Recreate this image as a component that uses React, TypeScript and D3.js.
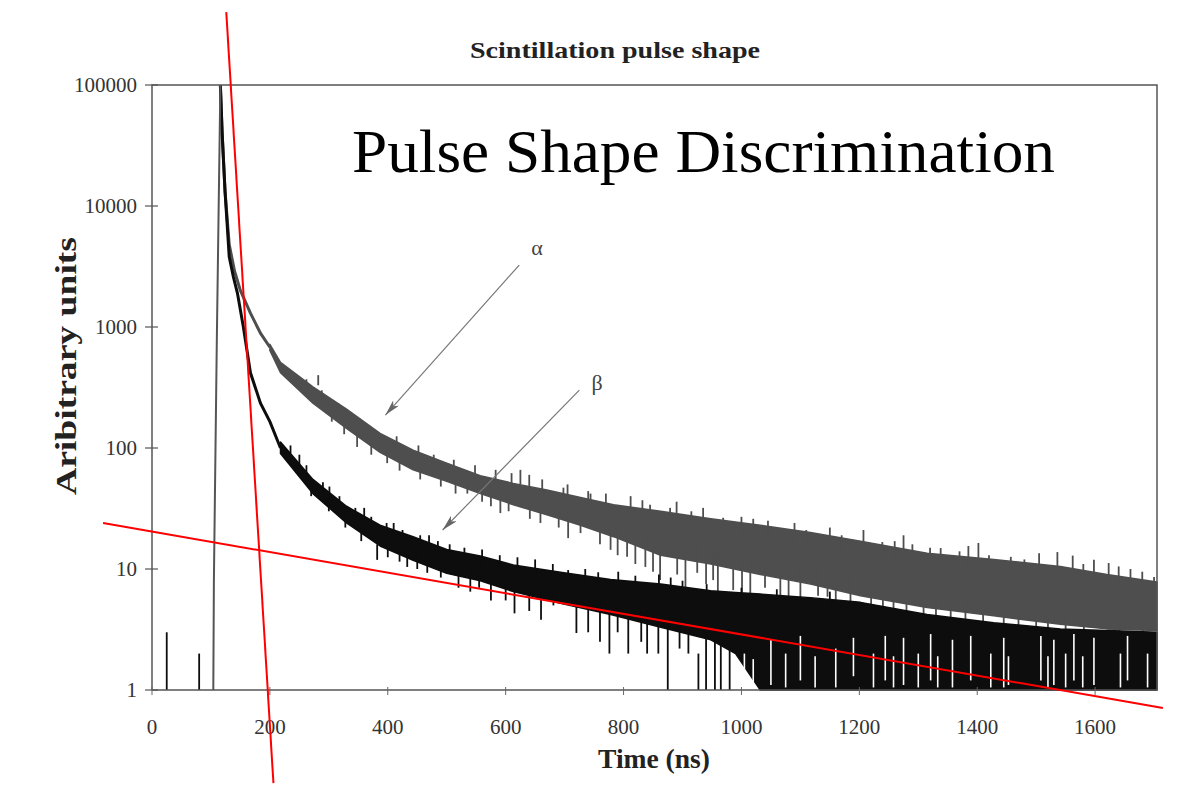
import React, { useEffect, useRef } from 'react';
import * as d3 from 'd3';

// axis ticks
const xTicks = [0, 200, 400, 600, 800, 1000, 1200, 1400, 1600];
const yTicks = [1, 10, 100, 1000, 10000, 100000];
const yTickLabels = ['1', '10', '100', '1000', '10000', '100000'];

// leading edge (shared by both pulses)
const riseT = [104, 105, 110, 116];
const riseV = [1, 8, 800, 100000];

// thin part of the decays right after the peak
const alphaHeadT = [116, 119, 124, 131, 140, 150, 167, 184, 200];
const alphaHeadV = [100000, 40000, 13000, 4800, 2900, 2000, 1300, 890, 680];
const betaHeadT = [116, 119, 124, 131, 138, 145, 155, 167, 184, 200, 218];
const betaHeadV = [100000, 40000, 13000, 3800, 2600, 1900, 1000, 418, 235, 165, 100];

// noisy tails: lower / upper edge of the trace
const alphaT = [200, 218, 273, 330, 387, 443, 500, 557, 613, 670, 727, 783, 863, 948, 1032, 1117, 1202, 1315, 1428, 1541, 1620, 1705];
const alphaLo = [640, 420, 235, 145, 92, 66, 53, 42, 34, 28, 23, 18.5, 13, 11, 9, 7.5, 6, 4.8, 4.1, 3.5, 3.2, 3.1];
const alphaHi = [720, 510, 320, 210, 132, 96, 75, 59, 51, 45, 39, 34, 30, 26, 23, 20, 17, 13.5, 12, 10.5, 9, 7.8];

const betaT = [218, 273, 330, 387, 443, 500, 557, 613, 693, 778, 863, 948, 990, 1032, 1117, 1202, 1315, 1428, 1541, 1620, 1705];
const betaLo = [90, 42, 24, 15.5, 11.8, 9.2, 8, 6.5, 5.2, 4.2, 3.3, 2.6, 2, 1, 1, 1, 1, 1, 1, 1, 1];
const betaHi = [112, 55, 33, 23, 18.5, 14.5, 12.8, 10.8, 9.4, 8.2, 7.5, 6.6, 6.4, 6.2, 5.8, 5.3, 4.2, 3.6, 3.2, 3.1, 3];

// single-bin excursions: [time, from, to]
const alphaSpikes = [
  [262, 330, 370], [282, 400, 330], [288, 260, 300], [305, 200, 165], [316, 200, 235], [326, 160, 130],
  [348, 150, 102], [352, 150, 175], [371, 125, 150], [372, 110, 88], [399, 100, 75], [415, 100, 125],
  [420, 80, 65], [452, 85, 105], [455, 70, 55], [478, 70, 88], [490, 60, 48], [512, 62, 80],
  [515, 55, 42], [535, 50, 42], [548, 55, 72], [560, 45, 36], [575, 44, 33], [583, 50, 66],
  [591, 42, 29], [605, 40, 30], [610, 45, 62], [625, 50, 66], [640, 42, 60], [641, 36, 26],
  [659, 33, 24], [662, 40, 55], [690, 31, 22], [698, 38, 47], [705, 36, 50], [706, 30, 18],
  [727, 28, 19.8], [740, 32, 44], [744, 35, 42], [760, 26, 16], [770, 30, 42], [778, 24, 14.4],
  [790, 24, 13], [806, 22, 12.6], [812, 28, 40], [820, 22, 11], [832, 28, 37], [837, 20, 10.4],
  [845, 26, 34], [850, 20, 9.5], [862, 18, 8.1], [879, 26, 32], [890, 24, 36], [891, 17, 9],
  [905, 16, 7], [915, 23, 30], [925, 16, 9.3], [935, 22, 32], [940, 15, 7.5], [952, 15, 8.1],
  [960, 14, 6], [969, 22, 26.5], [986, 14, 6.7], [1000, 19, 27], [1001, 13, 6.2], [1015, 12.5, 5],
  [1020, 18, 26], [1040, 12, 7], [1045, 17, 25], [1066, 12, 5.9], [1080, 11, 5.2], [1090, 16, 24],
  [1100, 11, 4.5], [1110, 15, 21], [1130, 10.5, 6], [1146, 10, 5.9], [1150, 14, 22], [1160, 10, 4.2],
  [1170, 14, 19], [1185, 9, 4.9], [1207, 15, 21], [1220, 8, 4], [1239, 13, 16.7], [1240, 8, 3.4],
  [1258, 6, 3.1], [1260, 12, 17], [1275, 12, 19], [1280, 7, 4.2], [1290, 12, 16], [1309, 5, 3.8],
  [1320, 11, 15], [1330, 6, 3.2], [1338, 11, 14.9], [1355, 5, 3.5], [1370, 10, 14], [1380, 5.5, 3.5],
  [1385, 10, 15.5], [1402, 10, 16.4], [1410, 5, 2.9], [1420, 9.5, 13], [1445, 4.5, 3.1], [1457, 10, 12.6],
  [1470, 4.5, 3.2], [1480, 9, 12], [1500, 4.5, 2.8], [1505, 9, 13.5], [1520, 4, 3], [1536, 9, 13.8],
  [1550, 4, 3], [1562, 9, 12.9], [1580, 8, 11], [1581, 4, 2.8], [1598, 9, 11.9], [1623, 8.5, 11.2],
  [1640, 7.5, 10.5], [1641, 3.8, 2.9], [1660, 7.5, 10], [1680, 7, 9.5], [1681, 3.6, 2.8], [1700, 7, 8.6],
];
const betaSpikes = [
  [25, 1, 3], [80, 1, 2],
  [235, 90, 105], [245, 75, 62], [250, 72, 88], [262, 60, 72], [270, 50, 40], [290, 44, 52],
  [300, 38, 30], [301, 40, 48], [318, 32, 40], [328, 28, 22], [345, 26, 32], [355, 22, 17],
  [360, 27, 32], [372, 21, 27], [382, 16, 11.9], [398, 18, 24], [400, 16, 12.5], [410, 20, 24],
  [420, 15, 11.5], [425, 16, 21], [433, 13, 10.4], [450, 13, 10], [455, 14, 19], [467, 11, 9.3],
  [470, 16, 19], [485, 12, 17], [490, 11, 8.5], [505, 11.5, 16], [520, 9.5, 7], [530, 11, 15],
  [540, 9.5, 6.5], [555, 9, 7], [560, 10, 14.5], [575, 8, 5.5], [590, 9.5, 13], [600, 8.5, 5.5],
  [615, 8, 4.3], [620, 9, 12.5], [640, 6.8, 4.5], [650, 8.5, 12], [660, 7, 3.8], [680, 8, 11],
  [681, 6.5, 5], [706, 9, 9.8], [720, 5.5, 2.96], [735, 7.5, 10], [740, 5.5, 3], [757, 8, 9.4],
  [760, 5.5, 2.5], [776, 4.5, 2], [790, 5, 3], [791, 7, 9.5], [808, 4.2, 2], [820, 7, 8.8],
  [830, 4.5, 2.5], [840, 4.5, 2], [859, 3.5, 2], [860, 7.5, 9], [875, 4, 1], [880, 6.5, 8.5],
  [895, 3.5, 2.2], [900, 6, 8], [910, 3, 2], [927, 1, 2], [940, 3, 1], [941, 5.5, 7.5],
  [955, 3, 1], [965, 2.4, 1], [980, 2.2, 1], [1000, 5.5, 7], [1060, 5.5, 6.8], [1150, 5, 6.5],
];
// empty bins showing through the black at late times: [time, from, to]
const betaGaps = [
  [1005, 1.05, 2], [1020, 1.05, 1.8], [1050, 1.1, 2.6], [1075, 1.05, 2], [1100, 1.2, 2.8],
  [1125, 1.05, 1.9], [1160, 1.05, 2.2], [1190, 1.3, 2.7], [1224, 1.05, 2], [1244, 1.2, 2.8],
  [1258, 1.05, 1.9], [1275, 1.1, 2.7], [1300, 1.05, 2], [1321, 1.2, 2.9], [1333, 1.05, 1.9],
  [1358, 1.05, 2.6], [1389, 1.2, 2.8], [1423, 1.05, 2], [1445, 1.05, 2.7], [1453, 1.1, 1.9],
  [1508, 1.2, 2.8], [1520, 1.05, 1.9], [1530, 1.1, 2.6], [1550, 1.05, 2], [1564, 1.2, 2.9],
  [1579, 1.05, 1.9], [1598, 1.1, 2.7], [1643, 1.05, 2], [1655, 1.2, 2.8], [1689, 1.05, 2],
];

// hand-drawn overlays (data units)
const redLines = [
  [[126, 400000], [206, 0.17]],
  [[-83, 24], [1715, 0.71]],
];
const arrows = [
  { label: 'α', text: [653, 4580], from: [623, 3250], to: [396, 187] },
  { label: 'β', text: [755, 351], from: [725, 301], to: [493, 21] },
];

const W = 1182;
const H = 785;

const App = () => {
  const svgRef = useRef(null);

  useEffect(() => {
    const svg = d3.select(svgRef.current);
    svg.selectAll('*').remove();

    const x = d3.scaleLinear().domain([0, 1705]).range([152, 1157]);
    const y = d3.scaleLog().domain([1, 100000]).range([690, 85]);
    const serif = '"Liberation Serif", "Times New Roman", serif';

    const defs = svg.append('defs');
    defs.append('marker')
      .attr('id', 'head')
      .attr('viewBox', '0 0 16 8')
      .attr('refX', 16).attr('refY', 4)
      .attr('markerWidth', 16).attr('markerHeight', 8)
      .attr('markerUnits', 'userSpaceOnUse')
      .attr('orient', 'auto')
      .append('path')
      .attr('d', 'M0,0 L16,4 L0,8 L4,4 Z')
      .attr('fill', '#666');

    const band = d3.area()
      .x(d => x(d[0]))
      .y0(d => y(d[1]))
      .y1(d => y(d[2]));
    const line = d3.line().x(d => x(d[0])).y(d => y(d[1]));

    const drawSeries = (t, lo, hi, headT, headV, spikes, color) => {
      const rows = t.map((tt, i) => [tt, lo[i], hi[i]]);
      svg.append('path')
        .attr('d', band(rows))
        .attr('fill', color).attr('stroke', color).attr('stroke-width', 1.5)
        .attr('stroke-linejoin', 'round');
      svg.append('path')
        .attr('d', line(headT.map((tt, i) => [tt, headV[i]])))
        .attr('fill', 'none').attr('stroke', color).attr('stroke-width', 3);
      svg.append('g').selectAll('line').data(spikes).enter().append('line')
        .attr('x1', d => x(d[0])).attr('x2', d => x(d[0]))
        .attr('y1', d => y(d[1])).attr('y2', d => y(d[2]))
        .attr('stroke', color).attr('stroke-width', 1.8);
    };

    drawSeries(alphaT, alphaLo, alphaHi, alphaHeadT, alphaHeadV, alphaSpikes, '#4e4e4e');
    drawSeries(betaT, betaLo, betaHi, betaHeadT, betaHeadV, betaSpikes, '#0d0d0d');

    svg.append('g').selectAll('line').data(betaGaps).enter().append('line')
      .attr('x1', d => x(d[0])).attr('x2', d => x(d[0]))
      .attr('y1', d => y(d[1])).attr('y2', d => y(d[2]))
      .attr('stroke', '#fff').attr('stroke-width', 1.6);

    // rising edge
    svg.append('path')
      .attr('d', line(riseT.map((tt, i) => [tt, riseV[i]])))
      .attr('fill', 'none').attr('stroke', '#555').attr('stroke-width', 2);

    // frame
    svg.append('rect')
      .attr('x', x(0)).attr('y', y(100000))
      .attr('width', x(1705) - x(0)).attr('height', y(1) - y(100000))
      .attr('fill', 'none').attr('stroke', '#555').attr('stroke-width', 1.5);

    // y ticks (cross style)
    svg.append('g').selectAll('line').data(yTicks).enter().append('line')
      .attr('x1', x(0) - 7).attr('x2', x(0) + 6)
      .attr('y1', d => y(d)).attr('y2', d => y(d))
      .attr('stroke', '#555').attr('stroke-width', 1.2);
    svg.append('g').selectAll('text').data(yTicks).enter().append('text')
      .attr('x', 137).attr('y', d => y(d)).attr('dy', '0.35em')
      .attr('text-anchor', 'end')
      .attr('font-family', serif).attr('font-size', 21).attr('fill', '#333')
      .text((d, i) => yTickLabels[i]);

    // x ticks
    svg.append('g').selectAll('line').data(xTicks).enter().append('line')
      .attr('x1', d => x(d)).attr('x2', d => x(d))
      .attr('y1', y(1) - 3).attr('y2', y(1) + 5)
      .attr('stroke', '#666').attr('stroke-width', 1);
    svg.append('g').selectAll('text').data(xTicks).enter().append('text')
      .attr('x', d => x(d)).attr('y', 734)
      .attr('text-anchor', 'middle')
      .attr('font-family', serif).attr('font-size', 21).attr('fill', '#333')
      .text(d => d);

    // arrows and labels
    arrows.forEach(a => {
      svg.append('line')
        .attr('x1', x(a.from[0])).attr('y1', y(a.from[1]))
        .attr('x2', x(a.to[0])).attr('y2', y(a.to[1]))
        .attr('stroke', '#777').attr('stroke-width', 1.2)
        .attr('marker-end', 'url(#head)');
      svg.append('text')
        .attr('x', x(a.text[0])).attr('y', y(a.text[1])).attr('dy', '0.35em')
        .attr('text-anchor', 'middle')
        .attr('font-family', serif).attr('font-size', 22).attr('fill', '#444')
        .text(a.label);
    });

    // red annotation lines
    redLines.forEach(l => {
      svg.append('line')
        .attr('x1', x(l[0][0])).attr('y1', y(l[0][1]))
        .attr('x2', x(l[1][0])).attr('y2', y(l[1][1]))
        .attr('stroke', '#ff0000').attr('stroke-width', 2);
    });

    // texts
    svg.append('text')
      .attr('x', 470).attr('y', 58)
      .attr('font-family', serif).attr('font-weight', 'bold').attr('font-size', 24)
      .attr('textLength', 290).attr('lengthAdjust', 'spacingAndGlyphs')
      .attr('fill', '#222')
      .text('Scintillation pulse shape');
    svg.append('text')
      .attr('x', 352).attr('y', 172)
      .attr('font-family', serif).attr('font-size', 62)
      .attr('textLength', 703).attr('lengthAdjust', 'spacingAndGlyphs')
      .attr('fill', '#000')
      .text('Pulse Shape Discrimination');
    svg.append('text')
      .attr('transform', 'translate(76,366) rotate(-90)')
      .attr('text-anchor', 'middle')
      .attr('font-family', serif).attr('font-weight', 'bold').attr('font-size', 29)
      .attr('textLength', 258).attr('lengthAdjust', 'spacingAndGlyphs')
      .attr('fill', '#222')
      .text('Aribitrary units');
    svg.append('text')
      .attr('x', 654).attr('y', 768)
      .attr('text-anchor', 'middle')
      .attr('font-family', serif).attr('font-weight', 'bold').attr('font-size', 28)
      .attr('textLength', 112).attr('lengthAdjust', 'spacingAndGlyphs')
      .attr('fill', '#222')
      .text('Time (ns)');
  }, []);

  return (
    <svg
      ref={svgRef}
      width={W}
      height={H}
      style={{ position: 'absolute', left: 0, top: 0, background: '#fff' }}
    />
  );
};

export default App;
